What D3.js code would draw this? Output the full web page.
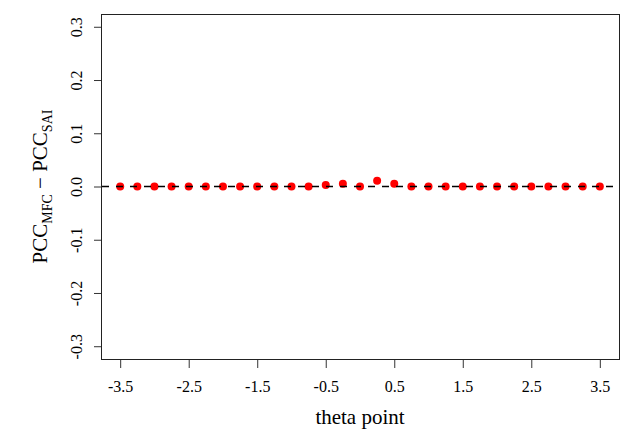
<!DOCTYPE html>
<html>
<head>
<meta charset="utf-8">
<script src="https://cdnjs.cloudflare.com/ajax/libs/d3/7.8.5/d3.min.js"></script>
<style>
  body { margin: 0; background: #fff; }
  svg text { font-family: "Liberation Serif", "Times New Roman", serif; fill: #000; }
</style>
</head>
<body>
<svg id="chart" width="628" height="431"></svg>
<script>
// theta points and the PCC difference
var thetaPoints = [-3.5, -3.25, -3, -2.75, -2.5, -2.25, -2, -1.75, -1.5, -1.25, -1, -0.75,
  -0.5, -0.25, 0, 0.25, 0.5, 0.75, 1, 1.25, 1.5, 1.75, 2, 2.25, 2.5, 2.75, 3, 3.25, 3.5];
var pccDiff = [0, 0, 0, 0, 0, 0, 0, 0, 0, 0, 0, 0,
  0.003, 0.005, 0, 0.011, 0.005, 0, 0, 0, 0, 0, 0, 0, 0, 0, 0, 0, 0];
var xTicks = [-3.5, -2.5, -1.5, -0.5, 0.5, 1.5, 2.5, 3.5];
var yTicks = [-0.3, -0.2, -0.1, 0, 0.1, 0.2, 0.3];

var serif = '"Liberation Serif", "Times New Roman", serif';
var margin = { top: 14, right: 9, bottom: 72, left: 101 };
var svgWidth = 628, svgHeight = 431;
var width = svgWidth - margin.left - margin.right;
var height = svgHeight - margin.top - margin.bottom;

var svg = d3.select("#chart");

// R style 4% padding around the data range
var x = d3.scaleLinear().domain([-3.78, 3.78]).range([margin.left, margin.left + width]);
var y = d3.scaleLinear().domain([-0.324, 0.324]).range([margin.top + height, margin.top]);

var fmt = function(d) { return d.toFixed(1); };

// x axis
var xAxis = svg.append("g")
  .attr("transform", "translate(0," + (margin.top + height) + ")")
  .call(d3.axisBottom(x).tickValues(xTicks).tickSize(9).tickFormat(fmt))
  .attr("font-family", serif).attr("font-size", 16);
xAxis.select(".domain").remove();
xAxis.selectAll("line").attr("stroke", "#333");
xAxis.selectAll("text")
  .attr("y", 33).attr("dy", 0)
  .style("font-family", serif)
  .style("font-size", "16px");

// y axis
var yAxis = svg.append("g")
  .attr("transform", "translate(" + margin.left + ",0)")
  .call(d3.axisLeft(y).tickValues(yTicks).tickSize(7).tickFormat(fmt))
  .attr("font-family", serif).attr("font-size", 16);
yAxis.select(".domain").remove();
yAxis.selectAll("line").attr("stroke", "#333");
yAxis.selectAll("text")
  .attr("x", 0).attr("y", 0).attr("dy", 0)
  .attr("text-anchor", "middle")
  .attr("transform", "translate(-19,0) rotate(-90)")
  .style("font-family", serif)
  .style("font-size", "16px");

// plot box
svg.append("rect")
  .attr("x", margin.left + 0.5)
  .attr("y", margin.top + 0.5)
  .attr("width", width)
  .attr("height", height)
  .attr("fill", "none")
  .attr("stroke", "#222")
  .attr("stroke-width", 1);

// points
svg.append("g")
  .selectAll("circle")
  .data(thetaPoints)
  .enter().append("circle")
    .attr("cx", function(d) { return x(d); })
    .attr("cy", function(d, i) { return y(pccDiff[i]); })
    .attr("r", 4)
    .attr("fill", "#ff0000");

// dashed zero line
svg.append("line")
  .attr("x1", x.range()[0] + 1)
  .attr("x2", x.range()[1])
  .attr("y1", y(0))
  .attr("y2", y(0))
  .attr("stroke", "#000")
  .attr("stroke-width", 1.5)
  .attr("stroke-dasharray", "7,7");

// axis titles
svg.append("text")
  .attr("x", margin.left + width / 2)
  .attr("y", 424)
  .attr("text-anchor", "middle")
  .style("font-size", "21px")
  .text("theta point");

var yt = svg.append("text")
  .attr("transform", "translate(47," + (margin.top + height / 2) + ") rotate(-90)")
  .attr("text-anchor", "middle")
  .style("font-size", "21px");
yt.append("tspan").text("PCC");
yt.append("tspan").attr("dy", 5).style("font-size", "14px").text("MFC");
yt.append("tspan").attr("dy", -5).text(" \u2212 PCC");
yt.append("tspan").attr("dy", 5).style("font-size", "14px").text("SAI");
</script>
</body>
</html>
